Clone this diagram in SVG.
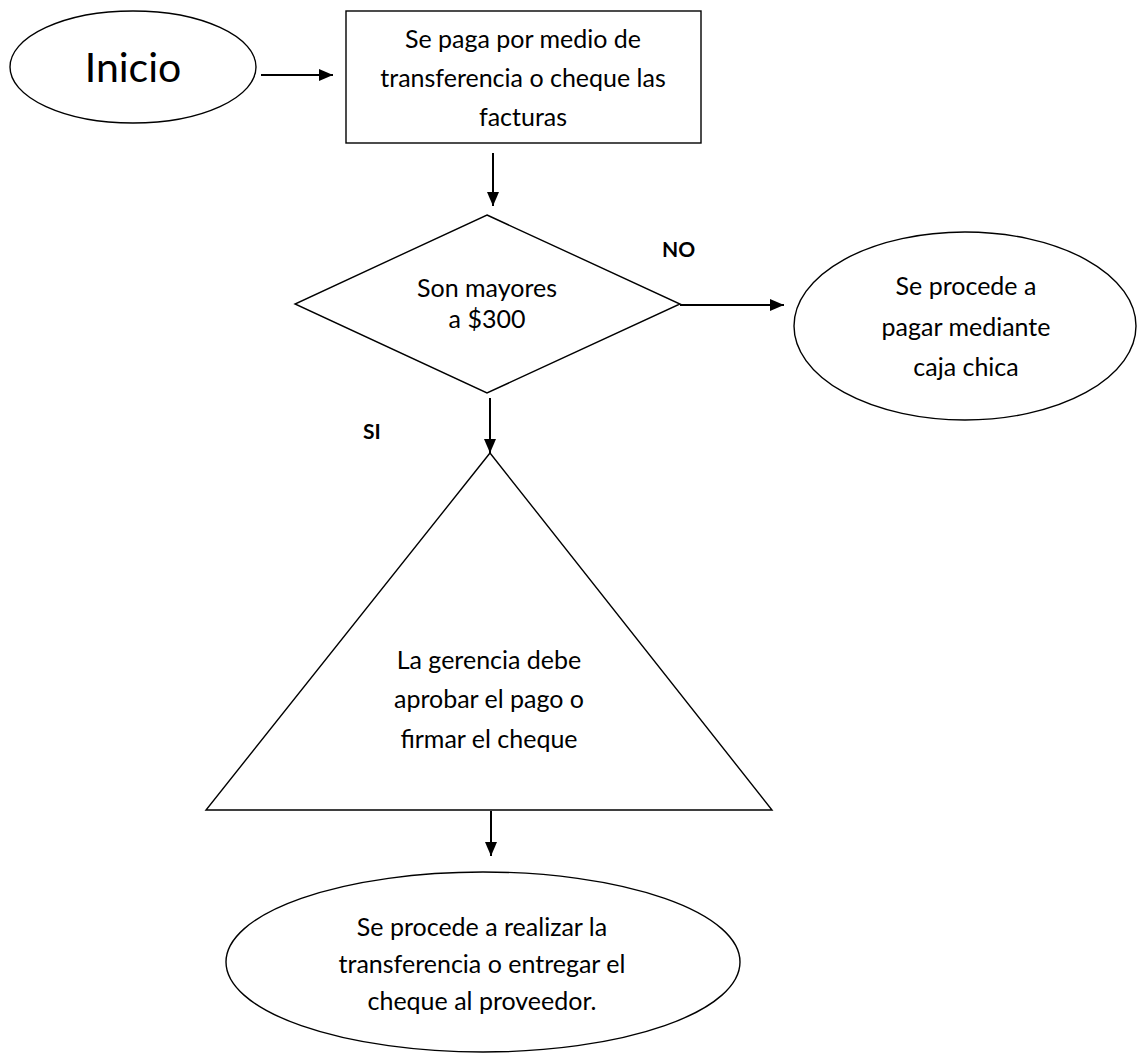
<svg xmlns="http://www.w3.org/2000/svg" width="1139" height="1053" viewBox="0 0 1139 1053">
  <style>
    .shape { fill: #ffffff; stroke: #000000; stroke-width: 1.4; }
    .edge { fill: none; stroke: #000000; stroke-width: 2; }
    .lbl { font-family: Lato, "Liberation Sans", sans-serif; font-size: 25px; fill: #000000; text-anchor: middle; }
    .big { font-size: 41px; }
    .bold { font-family: Lato, "Liberation Sans", sans-serif; font-size: 21px; font-weight: bold; fill: #000000; }
  </style>
  <defs>
    <marker id="arrow" viewBox="0 0 14 12" refX="14" refY="6" markerWidth="14" markerHeight="12" markerUnits="userSpaceOnUse" orient="auto">
      <path d="M0,0 L14,6 L0,12 Z" fill="#000000"/>
    </marker>
    <clipPath id="endClip">
      <rect x="0" y="0" width="1139" height="1015"/>
    </clipPath>
  </defs>
  <rect width="1139" height="1053" fill="#ffffff"/>

  <g id="inicio">
    <ellipse class="shape" cx="133" cy="67" rx="123" ry="56"/>
    <text class="lbl big" x="133" y="82">Inicio</text>
  </g>

  <g id="pago">
    <rect class="shape" x="346" y="11" width="355" height="132"/>
    <text class="lbl" x="523" y="48">Se paga por medio de</text>
    <text class="lbl" x="523" y="87">transferencia o cheque las</text>
    <text class="lbl" x="523" y="126">facturas</text>
  </g>

  <g id="decision">
    <polygon class="shape" points="487,215 680,304 487,393 295,304"/>
    <text class="lbl" x="487" y="297">Son mayores</text>
    <text class="lbl" x="487" y="328">a $300</text>
  </g>

  <g id="caja-chica">
    <ellipse class="shape" cx="965" cy="326" rx="171" ry="94"/>
    <text class="lbl" x="966" y="295">Se procede a</text>
    <text class="lbl" x="966" y="336">pagar mediante</text>
    <text class="lbl" x="966" y="376">caja chica</text>
  </g>

  <g id="gerencia">
    <polygon class="shape" points="490,453 772,810 206,810"/>
    <text class="lbl" x="489" y="669">La gerencia debe</text>
    <text class="lbl" x="489" y="708">aprobar el pago o</text>
    <text class="lbl" x="489" y="748">firmar el cheque</text>
  </g>

  <g id="fin">
    <ellipse class="shape" cx="483" cy="962" rx="257" ry="90"/>
    <g clip-path="url(#endClip)">
      <text class="lbl" x="482" y="936">Se procede a realizar la</text>
      <text class="lbl" x="482" y="973">transferencia o entregar el</text>
      <text class="lbl" x="482" y="1010">cheque al proveedor.</text>
    </g>
  </g>

  <g id="connectors">
    <line class="edge" x1="261" y1="75" x2="333" y2="75" marker-end="url(#arrow)"/>
    <line class="edge" x1="493" y1="153" x2="493" y2="206" marker-end="url(#arrow)"/>
    <line class="edge" x1="680" y1="305" x2="784" y2="305" marker-end="url(#arrow)"/>
    <line class="edge" x1="490" y1="398" x2="490" y2="453" marker-end="url(#arrow)"/>
    <line class="edge" x1="491" y1="811" x2="491" y2="856" marker-end="url(#arrow)"/>
    <text class="bold" x="662" y="257">NO</text>
    <text class="bold" x="363" y="439">SI</text>
  </g>
</svg>
